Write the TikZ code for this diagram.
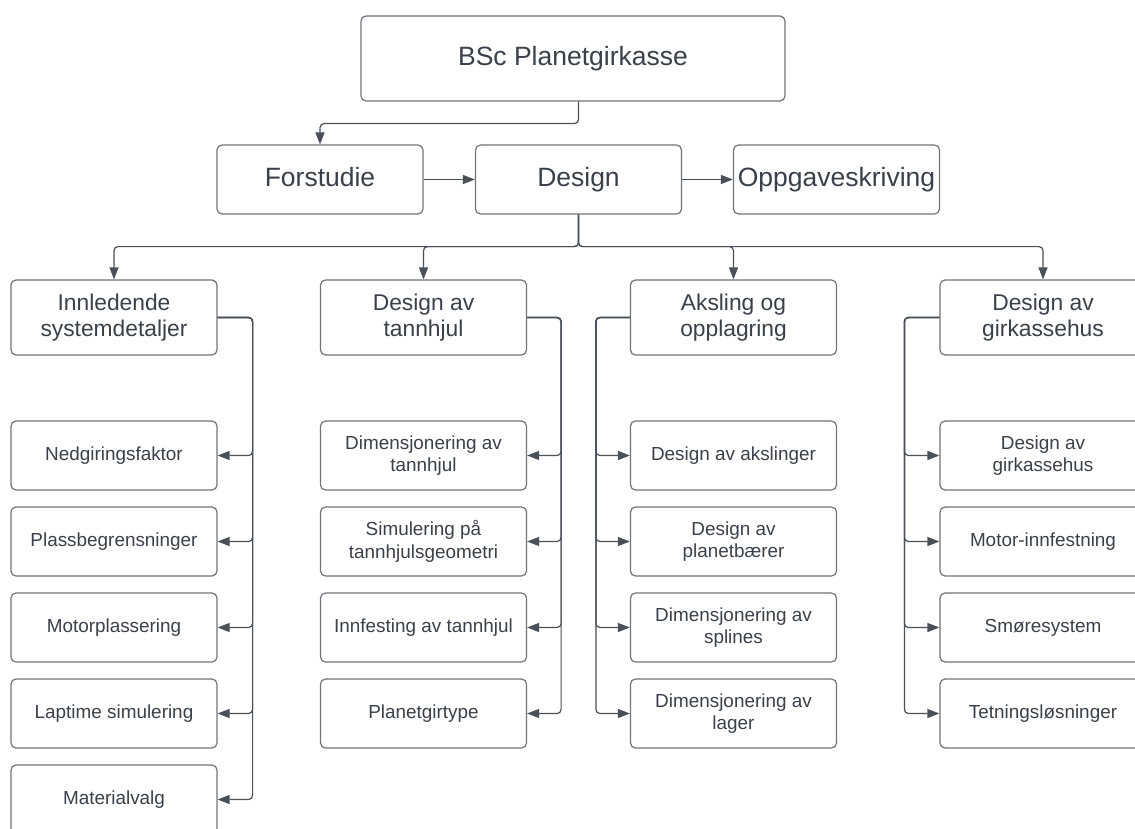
\documentclass[tikz,border=0pt]{standalone}
\usepackage{fontspec}
\setmainfont{Liberation Sans}
\usepackage{xcolor}
\usetikzlibrary{arrows.meta,calc}

\definecolor{boxgray}{HTML}{6F747B}
\definecolor{linegray}{HTML}{4A5058}
\definecolor{textgray}{HTML}{3A4049}

\tikzset{
    box/.style={draw=boxgray, line width=1.2pt, rounded corners=5pt, minimum width=206pt,
        minimum height=69pt, align=center, text=textgray, inner sep=2pt},
    bigbox/.style={box, font=\fontsize{26.5}{30}\selectfont, text height=19.5pt, text depth=5.5pt},
    midbox/.style={box, minimum height=75pt, font=\fontsize{22.8}{26.7}\selectfont},
    leafbox/.style={box, font=\fontsize{18.9}{22.7}\selectfont},
    conn/.style={draw=linegray, line width=1.2pt, rounded corners=4pt,
        -{Triangle[length=12pt,width=9pt]}}
}

\begin{document}
\begin{tikzpicture}[x=1pt,y=-1pt]
    \useasboundingbox (0,0) rectangle (1135,829);

    % Top
    \node[bigbox, minimum width=424pt, minimum height=85pt] (top) at (573,58.5) {BSc Planetgirkasse};

    % Phases
    \node[bigbox] (forstudie) at (320,179.5) {Forstudie};
    \node[bigbox] (design) at (578.5,179.5) {Design};
    \node[bigbox] (oppgave) at (836.5,179.5) {Oppgaveskriving};
    \draw[conn] (top.south -| design) -- ++(0,22) -| (forstudie.north);
    \draw[conn] (forstudie) -- (design);
    \draw[conn] (design) -- (oppgave);

    % Design parts
    \node[midbox] (innledende) at (114,317.5) {Innledende\\systemdetaljer};
    \node[midbox] (tannhjul) at (423.5,317.5) {Design av\\tannhjul};
    \node[midbox] (aksling) at (733.5,317.5) {Aksling og\\opplagring};
    \node[midbox] (hus) at (1043,317.5) {Design av\\girkassehus};
    \foreach \n in {innledende,tannhjul,aksling,hus} {
        \draw[conn] (design.south) -- ++(0,32) -| (\n.north);
    }

    % Innledende systemdetaljer
    \foreach \i/\txt in {1/Nedgiringsfaktor, 2/Plassbegrensninger, 3/Motorplassering,
                         4/Laptime simulering, 5/Materialvalg} {
        \node[leafbox, text height=14pt, text depth=4pt] (sys\i) at (114,369.5+86*\i) {\txt};
        \draw[conn] (innledende.east) -- ++(35,0) |- (sys\i.east);
    }

    % Design av tannhjul
    \foreach \i/\txt in {1/{Dimensjonering av\\tannhjul}, 2/{Simulering på\\tannhjulsgeometri},
                         3/Innfesting av tannhjul, 4/Planetgirtype} {
        \node[leafbox] (gear\i) at (423.5,369.5+86*\i) {\txt};
        \draw[conn] (tannhjul.east) -- ++(34,0) |- (gear\i.east);
    }

    % Aksling og opplagring
    \foreach \i/\txt in {1/Design av akslinger, 2/{Design av\\planetbærer},
                         3/{Dimensjonering av\\splines}, 4/{Dimensjonering av\\lager}} {
        \node[leafbox] (shaft\i) at (733.5,369.5+86*\i) {\txt};
        \draw[conn] (aksling.west) -- ++(-34,0) |- (shaft\i.west);
    }

    % Design av girkassehus
    \foreach \i/\txt in {1/{Design av\\girkassehus}, 2/Motor-innfestning,
                         3/Smøresystem, 4/Tetningsløsninger} {
        \node[leafbox] (house\i) at (1043,369.5+86*\i) {\txt};
        \draw[conn] (hus.west) -- ++(-35,0) |- (house\i.west);
    }
\end{tikzpicture}
\end{document}
